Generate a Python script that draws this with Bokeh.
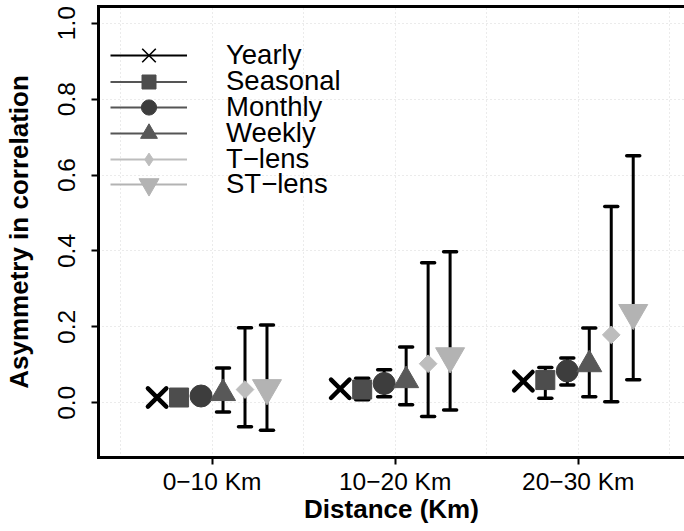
import numpy as np
from bokeh.plotting import figure
from bokeh.models import (ColumnDataSource, FixedTicker, Legend, LegendItem,
                          LinearAxis, Range1d, NumeralTickFormatter)
from bokeh.embed import file_html
from bokeh.resources import INLINE

# ---------------- data ----------------
categories = ["0−10 Km", "10−20 Km", "20−30 Km"]
series = ["Yearly", "Seasonal", "Monthly", "Weekly", "T−lens", "ST−lens"]

yearly = [0.014, 0.037, 0.057]
yearly_lower = [np.nan, np.nan, np.nan]
yearly_upper = [np.nan, np.nan, np.nan]

seasonal = [0.014, 0.035, 0.060]
seasonal_lower = [0.008, 0.008, 0.012]
seasonal_upper = [0.022, 0.065, 0.093]

monthly = [0.018, 0.051, 0.084]
monthly_lower = [0.008, 0.016, 0.047]
monthly_upper = [0.028, 0.087, 0.118]

weekly = [0.025, 0.059, 0.101]
weekly_lower = [-0.024, -0.005, 0.016]
weekly_upper = [0.092, 0.147, 0.197]

tlens = [0.035, 0.103, 0.179]
tlens_lower = [-0.063, -0.036, 0.003]
tlens_upper = [0.198, 0.369, 0.517]

stlens = [0.039, 0.123, 0.237]
stlens_lower = [-0.072, -0.019, 0.061]
stlens_upper = [0.205, 0.398, 0.651]

y_ticks = [0.0, 0.2, 0.4, 0.6, 0.8, 1.0]
y_tick_labels = ["0.0", "0.2", "0.4", "0.6", "0.8", "1.0"]

values = [yearly, seasonal, monthly, weekly, tlens, stlens]
lowers = [yearly_lower, seasonal_lower, monthly_lower, weekly_lower, tlens_lower, stlens_lower]
uppers = [yearly_upper, seasonal_upper, monthly_upper, weekly_upper, tlens_upper, stlens_upper]

# ---------------- styles ----------------
FONT = "Liberation Sans"
styles = [
    dict(marker="x", lmarker="x", color="#000000", size=26, lw=4.5, angle=0.0, lsize=19, llw=1.6, linecol="#000000"),
    dict(marker="square", lmarker="square", color="#4d4d4d", size=19, lw=1, angle=0.0, lsize=14, llw=1, linecol="#555555"),
    dict(marker="circle", lmarker="circle", color="#3d3d3d", size=22, lw=1, angle=0.0, lsize=15, llw=1, linecol="#555555"),
    dict(marker="triangle", lmarker="triangle", color="#585858", size=25, lw=1, angle=0.0, lsize=17, llw=1, linecol="#555555"),
    dict(marker="square", lmarker="diamond", color="#bdbdbd", size=12.5, lw=1, angle=np.pi / 4, lsize=13, llw=1, linecol="#bdbdbd"),
    dict(marker="inverted_triangle", lmarker="inverted_triangle", color="#b3b3b3", size=29, lw=1, angle=0.0, lsize=20, llw=1, linecol="#b3b3b3"),
]
offsets = np.linspace(-0.3, 0.3, len(series))
group_pos = np.arange(1, len(categories) + 1)

W, H = 684, 531
BORDER_BOTTOM, BORDER_TOP = 74, 6
p = figure(width=W, height=H, output_backend="svg", toolbar_location=None,
           x_range=Range1d(0.38, 3.58), y_range=Range1d(-0.144, 1.044),
           min_border_left=98, min_border_right=0, min_border_top=BORDER_TOP,
           min_border_bottom=BORDER_BOTTOM,
           background_fill_color="white", border_fill_color="white")
p.outline_line_color = None

# grids
p.xgrid.ticker = FixedTicker(ticks=list(np.arange(0.5, len(categories) + 0.6, 0.5)))
p.ygrid.ticker = FixedTicker(ticks=y_ticks)
for g in (p.xgrid, p.ygrid):
    g.grid_line_color = "#d6d6d6"
    g.grid_line_dash = "1 3"
    g.grid_line_width = 1

sources = []
for k, (vals, lo, hi) in enumerate(zip(values, lowers, uppers)):
    xs = list(group_pos + offsets[k])
    sources.append(ColumnDataSource(dict(x=xs, y=vals, lo=lo, hi=hi)))

# error bars first
for src in sources:
    p.segment(x0="x", y0="lo", x1="x", y1="hi", source=src, line_color="black",
              line_width=3)
    for col in ("lo", "hi"):
        p.scatter(x="x", y=col, source=src, marker="dash", size=13, line_color="black",
                  line_width=3.5, line_cap="round")

# markers
for src, st in zip(sources, styles):
    if st["marker"] == "x":
        p.scatter(x="x", y="y", source=src, marker="x", size=st["size"],
                  line_color=st["color"], line_width=st["lw"], line_cap="round")
    else:
        p.scatter(x="x", y="y", source=src, marker=st["marker"], size=st["size"],
                  angle=st["angle"], fill_color=st["color"], line_color=st["color"],
                  line_width=st["lw"])

# legend: one single-item legend per series so each keeps its own marker size
frame_h = H - BORDER_TOP - BORDER_BOTTOM
first_center, step, label_row = 49.7, 25.7, 31.0   # measured from frame top
for k, (name, st) in enumerate(zip(series, styles)):
    lr = p.line(x=[np.nan], y=[np.nan], line_color=st["linecol"], line_width=2)
    if st["lmarker"] == "x":
        mr = p.scatter(x=[np.nan], y=[np.nan], marker="x", size=st["lsize"],
                       line_color=st["color"], line_width=st["llw"])
    else:
        mr = p.scatter(x=[np.nan], y=[np.nan], marker=st["lmarker"], size=st["lsize"],
                       fill_color=st["color"], line_color=st["color"],
                       line_width=st["llw"])
    gh = st["lsize"] / 0.4
    rowh = max(gh, label_row)
    center = first_center + k * step
    vy = frame_h - center - rowh / 2
    lg = Legend(items=[LegendItem(label=name, renderers=[lr, mr])], location=(12, vy),
                glyph_width=77, glyph_height=int(round(gh)), label_height=20,
                label_standoff=39, spacing=0, padding=0, margin=0,
                border_line_color=None, background_fill_alpha=0,
                label_text_font=FONT, label_text_font_size="27.5px",
                label_text_color="black")
    p.add_layout(lg)

# axes
xa = p.xaxis[0]
xa.ticker = FixedTicker(ticks=list(group_pos))
xa.major_label_overrides = {int(gp): c for gp, c in zip(group_pos, categories)}
xa.axis_label = "Distance (Km)"

ya = p.yaxis[0]
ya.ticker = FixedTicker(ticks=y_ticks)
ya.formatter = NumeralTickFormatter(format="0.0")
ya.major_label_overrides = {t: l for t, l in zip(y_ticks, y_tick_labels)}
ya.major_label_orientation = "vertical"
ya.axis_label = "Asymmetry in correlation"

for ax in (xa, ya):
    ax.axis_line_width = 3
    ax.axis_line_color = "black"
    ax.axis_line_cap = "square"
    ax.major_tick_line_width = 2
    ax.major_tick_line_color = "black"
    ax.major_tick_out = 7
    ax.major_tick_in = 0
    ax.minor_tick_out = 0
    ax.minor_tick_in = 0
    ax.major_label_text_font = FONT
    ax.major_label_text_font_size = "24.5px"
    ax.major_label_text_color = "black"
    ax.axis_label_text_font = FONT
    ax.axis_label_text_font_size = "26px"
    ax.axis_label_text_font_style = "bold"
    ax.axis_label_text_color = "black"

xa.major_label_standoff = 3
xa.axis_label_standoff = -4
ya.major_label_standoff = 16
ya.axis_label_standoff = 22

top_axis = LinearAxis(ticker=FixedTicker(ticks=[]), axis_line_width=3, axis_line_color="black",
                      axis_line_cap="square", major_tick_out=0, major_tick_in=0,
                      minor_tick_out=0, minor_tick_in=0, major_label_standoff=0,
                      axis_label_standoff=0, major_label_text_font_size="0px")
p.add_layout(top_axis, "above")

open("out.html", "w").write(file_html(p, INLINE))
